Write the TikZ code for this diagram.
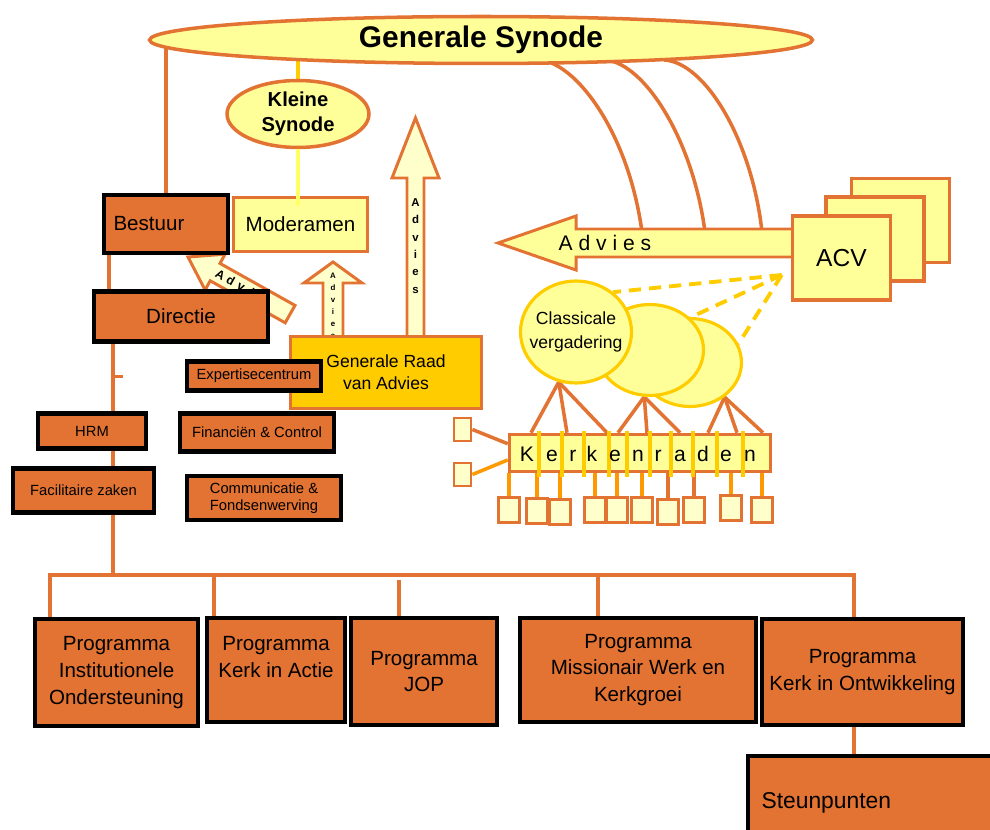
\documentclass[tikz,border=0pt]{standalone}
\usepackage{fontspec}
\setmainfont{Liberation Sans}
\usetikzlibrary{shapes.geometric}
\usetikzlibrary{backgrounds}
\definecolor{orng}{RGB}{226,115,50}
\definecolor{ylw}{HTML}{FFFF99}
\definecolor{pale}{HTML}{FFFFCC}
\definecolor{gold}{HTML}{FFCC00}
\definecolor{amber}{HTML}{FF9900}
\definecolor{lemon}{HTML}{FFFF66}
\tikzset{
  synode/.style={ellipse, draw=orng, line width=2pt, fill=ylw, inner sep=0pt, align=center},
  orgbox/.style={draw=black, line width=2.5pt, fill=orng, inner sep=0pt, align=center, font=\fontsize{11.7}{15.3}\selectfont},
  deptbox/.style={orgbox, font=\fontsize{8.4}{10}\selectfont},
  ylwbox/.style={draw=orng, line width=2pt, fill=ylw, inner sep=0pt, align=center, font=\fontsize{11.7}{15.3}\selectfont},
  kleinbox/.style={draw=orng, line width=1.6pt, fill=pale, minimum width=.42cm, minimum height=.5cm},
  classis/.style={ellipse, draw=gold, line width=1.8pt, fill=ylw, inner sep=0pt},
  orgline/.style={draw=orng, line width=2pt},
  advarrow/.style={draw=orng, line width=1.7pt, fill=pale, line join=miter},
}

\begin{document}
\begin{tikzpicture}[x=0.02cm, y=-0.02cm]
    \useasboundingbox (0,0) rectangle (990,830);
    \clip (0,0) rectangle (990,830);
    % synodes
    \node[synode, minimum width=13.26cm, minimum height=.94cm, font=\fontsize{17}{20}\selectfont\bfseries] (gs) at (481,40) {Generale Synode};
    \node[synode, minimum width=2.84cm, minimum height=1.34cm, font=\fontsize{11.5}{14.2}\selectfont\bfseries] (ks) at (298,114) {Kleine\\Synode};
    \node[ylwbox, minimum width=2.68cm, minimum height=1.08cm] (moderamen) at (300.5,224.5) {Moderamen};
    \draw[lemon, line width=2.2pt] (ks.south) -- ([yshift=-.2cm]ks.south |- moderamen.north);
    % advies naar bestuur
    \draw[advarrow] (188,257) -- (225.1,254.2) -- (220,263.4) -- (295,305.4) -- (285.2,322.8) -- (210.2,280.8) -- (205.1,290) -- cycle;
    \foreach \x/\y/\l [count=\i] in {220.3/275.1/A, 230.8/280.9/d, 241.3/286.8/v, 251.7/292.6/i}
        \node[rotate=-29.2, inner sep=0pt, text height=5pt, text depth=0pt, font=\fontsize{7}{8}\selectfont\bfseries] (advdiag\i) at (\x,\y) {\l};
    \node[orgbox, minimum width=2.48cm, minimum height=1.16cm, text width=2.1cm, align=left] (bestuur) at (166,224) {Bestuur};
    \node[orgbox, minimum width=3.48cm, minimum height=1cm] (directie) at (181,316.5) {Directie};
    % advies omhoog
    \draw[advarrow] (323,340) -- (323,283) -- (304,283) -- (333,262) -- (362,283) -- (343,283) -- (343,340) -- cycle;
    \node[align=center, font=\fontsize{4.5}{6.8}\selectfont\bfseries] (advsmall) at (333,306) {A\\d\\v\\i\\e\\s};
    \draw[advarrow] (407,340) -- (407,178) -- (392,178) -- (415.5,118) -- (439,178) -- (424,178) -- (424,340) -- cycle;
    \node[align=center, font=\fontsize{6.5}{9.9}\selectfont\bfseries] (advbig) at (415.5,246) {A\\d\\v\\i\\e\\s};
    \node[ylwbox, fill=gold, minimum width=3.82cm, minimum height=1.44cm, font=\fontsize{10}{12.5}\selectfont] (grva) at (386,372.5) {Generale Raad\\van Advies};
    % diensten
    \node[deptbox, minimum width=2.68cm, minimum height=.58cm] (expertise) at (254,376) {Expertisecentrum};
    \node[deptbox, minimum width=3.08cm, minimum height=.76cm] (financien) at (257,432.5) {Financiën \& Control};
    \node[deptbox, minimum width=3.08cm, minimum height=.88cm] (communicatie) at (264,498) {Communicatie \&\\Fondsenwerving};
    \node[deptbox, minimum width=2.16cm, minimum height=.7cm] (hrm) at (92,431) {HRM};
    \node[deptbox, minimum width=2.82cm, minimum height=.88cm] (facilitair) at (83.5,490.5) {Facilitaire zaken};
    % programma's
    \node[orgbox, minimum width=3.26cm, minimum height=2.14cm] (pio) at (116.5,672.5) {Programma\\Institutionele\\Ondersteuning};
    \node[orgbox, minimum width=2.76cm, minimum height=2.08cm] (pkia) at (276,670) {Programma\\Kerk in Actie\\\mbox{}};
    \node[orgbox, minimum width=2.92cm, minimum height=2.14cm] (pjop) at (424,671.5) {Programma\\JOP};
    \node[orgbox, minimum width=4.72cm, minimum height=2.08cm] (pmwk) at (638,670) {Programma\\Missionair Werk en\\Kerkgroei};
    \node[orgbox, minimum width=4.02cm, minimum height=2.12cm] (pkio) at (862.5,672) {Programma\\Kerk in Ontwikkeling};
    \node[orgbox, minimum width=5.24cm, minimum height=1.88cm, text width=4.7cm, align=left, font=\fontsize{13}{15}\selectfont] (steun) at (879,803) {Steunpunten};
    % ACV
    \draw[advarrow, fill=ylw] (800,229) -- (576,229) -- (576,216) -- (498,243) -- (576,270) -- (576,257) -- (800,257) -- cycle;
    \node[font=\fontsize{12}{14}\selectfont] (advacv) at (605,243) {A d v i e s};
    \node[ylwbox, minimum width=1.96cm, minimum height=1.68cm] (acv3) at (900.5,220.5) {};
    \node[ylwbox, minimum width=1.96cm, minimum height=1.68cm] (acv2) at (875,239) {};
    \node[ylwbox, minimum width=1.96cm, minimum height=1.68cm, font=\fontsize{14}{16}\selectfont] (acv1) at (841.5,258) {ACV};
    % classes
    \node[classis, minimum width=2.06cm, minimum height=1.76cm] (c3) at (690,362.5) {};
    \node[classis, minimum width=2.14cm, minimum height=1.82cm] (c2) at (650,350) {};
    \node[classis, minimum width=2.22cm, minimum height=2.04cm] (c1) at (576,332) {};
    \node[align=center, font=\fontsize{10}{13.6}\selectfont] (c1txt) at (c1) {Classicale\\vergadering};
    % kerkenraden
    \node[ylwbox, minimum width=5.22cm, minimum height=.74cm] (kerk) at (640,453) {};
    \foreach \x in {539,562,584,609,627,650,671,693,717,743}
        \draw[gold, line width=2pt] (\x,431) -- (\x,477);
    \foreach \x/\l [count=\i] in {527/K,552/e,573/r,592/k,615/e,638/n,658/r,680/a,703/d,726/e,750/n}
        \node[anchor=base, font=\fontsize{12}{14}\selectfont] (kl\i) at (\x,462) {\l};
    \foreach \x/\y [count=\i] in {509/510,537/511,560/512,595/510,617/510,642/510,668/512,694/510,731/508,762/510}
        \node[kleinbox] (kb\i) at (\x,\y) {};
    \node[kleinbox, minimum width=.34cm, minimum height=.46cm] (lb1) at (462.5,429.5) {};
    \node[kleinbox, minimum width=.34cm, minimum height=.46cm] (lb2) at (462.5,474.5) {};
    \coordinate (bus) at (113,575);
    \coordinate (acvtip) at ([xshift=-.18cm, yshift=-.34cm]acv1.west);

    \begin{scope}[on background layer]
        \draw[gold, line width=1.8pt] (ks.north) -- (ks.north |- gs.center);
        \draw[orgline] (bestuur.north) -- (bestuur.north |- gs.center);
        \draw[orgline] ([xshift=.14cm]bestuur.south west) -- ([xshift=.14cm]bestuur.south west |- directie.north);
        \draw[orgline] (directie.south -| bus) -- (bus);
        \draw[orgline] (directie.south -| bus) ++(0,33) -- ++(10,0);
        \draw[orgline] (pio.north -| 50,0) |- (bus) -| (pkio.north -| 854,0);
        \draw[orgline] (pkia.north -| 214,0) -- (bus -| 214,0);
        \draw[orgline] (pmwk.north -| 598,0) -- (bus -| 598,0);
        \draw[orgline] (pjop.north -| 399,0) -- ++(0,-36);
        \draw[orgline] (pkio.south -| 854,0) -- (steun.north -| 854,0);
        % lijnen naar het ACV
        \draw[orgline] (540,60) .. controls (575,63) and (628,130) .. (642,232);
        \draw[orgline] (606,60) .. controls (645,64) and (693,140) .. (705,232);
        \draw[orgline] (664,60) .. controls (705,62) and (752,140) .. (762,232);
        \draw[gold, line width=2.2pt, dash pattern=on 7pt off 4.5pt] (acvtip) -- (c1.47);
        \draw[gold, line width=2.2pt, dash pattern=on 7pt off 4.5pt] (acvtip) -- (c2.39);
        \draw[gold, line width=2.2pt, dash pattern=on 7pt off 4.5pt] (acvtip) -- (c3.21);
        \foreach \x in {531,567,607}
            \draw[orgline] (c1.-109) -- (kerk.north -| \x,0);
        \foreach \x in {618,647,680}
            \draw[orgline] (c2.-97) -- (kerk.north -| \x,0);
        \foreach \x in {708,737,763}
            \draw[orgline] (c3.-45) -- (kerk.north -| \x,0);
        \foreach \i/\c in {1/amber,2/amber,3/amber,4/amber,5/amber,6/amber,7/orng,8/orng,9/amber,10/amber}
            \draw[\c, line width=2pt] (kb\i.north) -- (kb\i.north |- kerk.south);
        \draw[orgline] (lb1.east) -- (kerk.176);
        \draw[amber, line width=2pt] (lb2.east) -- (kerk.183);
    \end{scope}
\end{tikzpicture}
\end{document}
